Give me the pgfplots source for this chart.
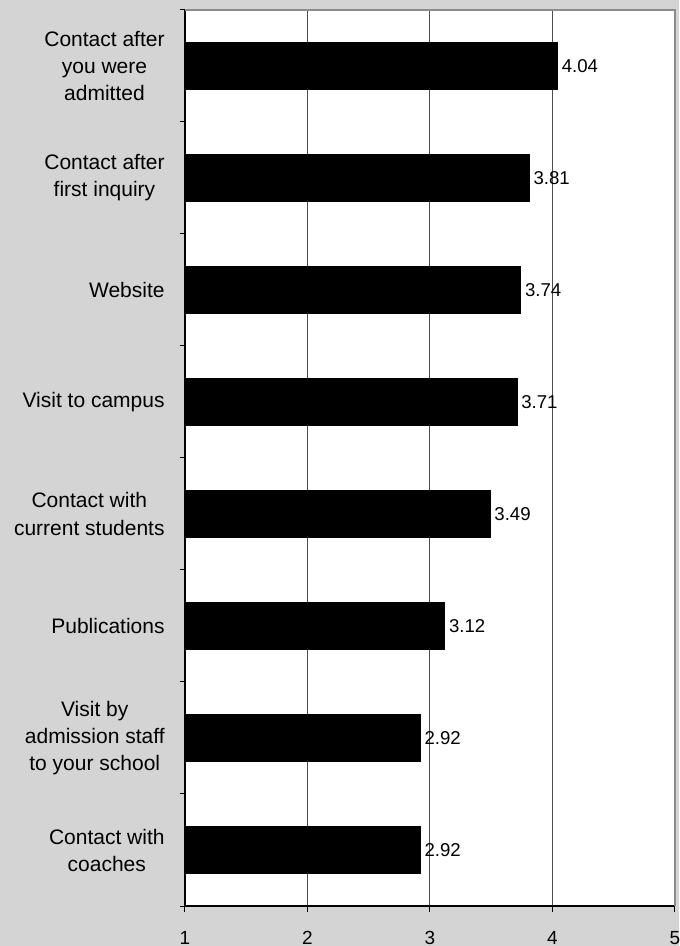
\documentclass[border=0pt]{standalone}
\usepackage{fontspec}
\setmainfont{Liberation Sans}
\usepackage{pgfplots}
\pgfplotsset{compat=1.18}
\definecolor{bg}{RGB}{212,212,212}
\begin{document}
\begin{tikzpicture}
\fill[bg] (-92.5pt,-20pt) rectangle (247pt,453pt);
\begin{axis}[
    at={(0,0)}, anchor=south west,
    scale only axis,
    width=245pt, height=448pt,
    xbar, bar width=0.42,
    xmin=1, xmax=5,
    ymin=-0.5, ymax=7.5,
    axis background/.style={fill=white},
    axis lines*=left,
    axis line style={-, black, line width=0.6pt},
    tick align=outside,
    xtick={1,2,3,4,5},
    major tick length=3pt,
    minor tick length=2.5pt,
    tick style={black, line width=0.5pt},
    ytick={0,...,7},
    major y tick style={draw=none},
    minor ytick={-0.5,0.5,...,7.5},
    minor y tick style={black, line width=0.5pt},
    xmajorgrids,
    grid style={black!70, line width=0.5pt},
    /pgf/number format/assume math mode=true,
    xticklabel style={font=\fontsize{9.5}{11}\selectfont, anchor=base, inner sep=0pt, yshift=-16pt},
    yticklabel style={font=\fontsize{10.5}{13.5}\selectfont, align=center, inner xsep=0pt, xshift=-7pt},
    yticklabels={
        {Contact with\\coaches},
        {Visit by\\admission staff\\to your school},
        {Publications},
        {Contact with\\current students},
        {Visit to campus},
        {Website},
        {Contact after\\first inquiry},
        {Contact after\\you were\\admitted}},
    point meta=x,
    nodes near coords={\pgfmathprintnumber[fixed,fixed zerofill,precision=2,assume math mode=true]{\pgfplotspointmeta}},
    nodes near coords style={font=\fontsize{9.3}{11}\selectfont, anchor=west, inner xsep=2pt},
    after end axis/.code={
        \draw[black!45, line width=0.6pt] (rel axis cs:0,1) -- (rel axis cs:1,1) -- (rel axis cs:1,0);
    },
]
\addplot[fill=black, draw=black] coordinates {
    (2.92,0) (2.92,1) (3.12,2) (3.49,3) (3.71,4) (3.74,5) (3.81,6) (4.04,7)
};
\end{axis}
\pgfresetboundingbox
\path[use as bounding box] (-92.5pt,-20pt) rectangle (247pt,453pt);
\end{tikzpicture}
\end{document}
